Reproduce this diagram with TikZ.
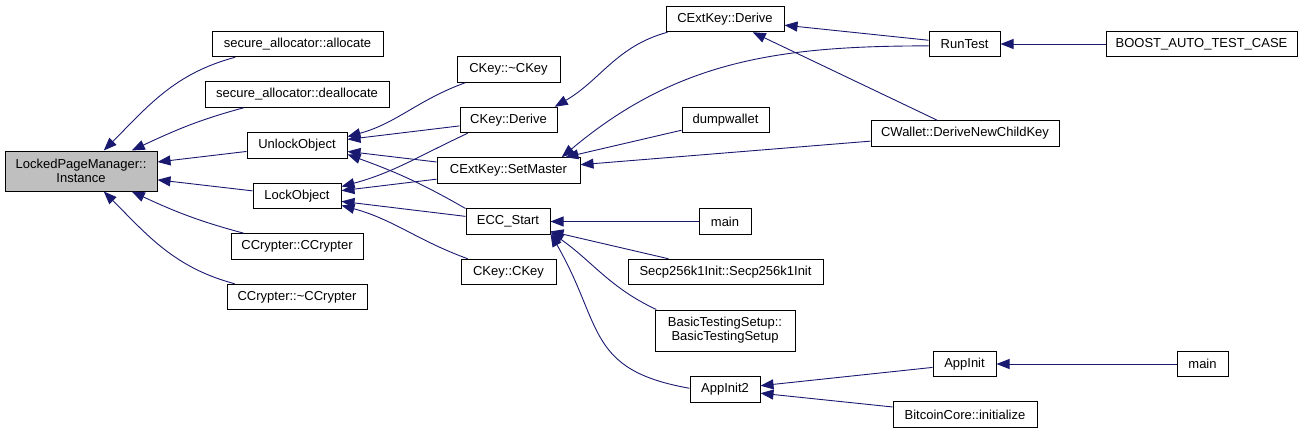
\documentclass[tikz,border=0pt]{standalone}
\usepackage{fontspec}
\setmainfont{Liberation Sans}
\usetikzlibrary{positioning,arrows.meta}
\definecolor{edgeblue}{HTML}{191970}
\definecolor{rootgray}{HTML}{BFBFBF}

\begin{document}
\begin{tikzpicture}[x=1pt,y=1pt,
    fnbox/.style={draw=black,fill=white,line width=1pt,minimum height=25.5pt,inner sep=0pt,
      font=\fontsize{13}{14}\selectfont,align=center},
    calls/.style={draw=edgeblue,line width=0.9pt,-{Triangle[length=13pt,width=10pt,fill=edgeblue]}}]
  \useasboundingbox (0,0) rectangle (1303,-433);
  % boxes: name / centre x / centre y (counted from the top) / width / label
  \foreach \n/\x/\y/\w/\lbl in {
      alloc/297.5/44/171/secure\_allocator::allocate,
      dealloc/297/94.5/184/secure\_allocator::deallocate,
      unlock/297/145.5/100/UnlockObject,
      lock/297/196/88/LockObject,
      ccrypt/297/246.5/132/CCrypter::CCrypter,
      dcrypt/297/297/140/CCrypter::\textasciitilde CCrypter,
      ckeyd/508.5/69.5/103/CKey::\textasciitilde CKey,
      ckderive/508.5/120/97/CKey::Derive,
      setmaster/508.5/170.5/143/CExtKey::SetMaster,
      eccstart/508/221.5/84/ECC\_Start,
      ckey/508.5/272/95/CKey::CKey,
      extderive/725/19/118/CExtKey::Derive,
      dumpwallet/725.5/120/87/dumpwallet,
      mainecc/725/221.5/52/main,
      secp/725.5/272/195/Secp256k1Init::Secp256k1Init,
      appinit2/725/389.5/70/AppInit2,
      runtest/964.5/44/71/RunTest,
      cwallet/965/133.5/188/CWallet::DeriveNewChildKey,
      appinit/964.5/364/63/AppInit,
      bitcoincore/965/414.5/144/BitcoinCore::initialize,
      boost/1201.5/44/191/BOOST\_AUTO\_TEST\_CASE,
      mainapp/1202.5/364/51/main} {
    \node[fnbox,minimum width=\w] (\n) at (\x,-\y) {\lbl};
  }
  \node[fnbox,fill=rootgray,minimum width=152,minimum height=40] (inst) at (81,-171)
    {LockedPageManager::\\Instance};
  \node[fnbox,minimum width=140,minimum height=41] (basic) at (725,-330.5)
    {BasicTestingSetup::\\BasicTestingSetup};

  % straight calls
  \foreach \a/\b in {unlock/inst, lock/inst, ckderive/unlock, setmaster/unlock,
      setmaster/lock, eccstart/lock, dumpwallet/setmaster, cwallet/setmaster,
      cwallet/extderive, runtest/extderive, boost/runtest, mainecc/eccstart,
      secp/eccstart, appinit/appinit2, bitcoincore/appinit2, mainapp/appinit} {
    \draw[calls] (\a) -- (\b);
  }
  % bent calls
  \draw[calls] (alloc.192) to[out=195,in=45] (inst.42);
  \draw[calls] (dealloc.194) to[out=195,in=25] (inst.22);
  \draw[calls] (ccrypt.166) to[out=165,in=-25] (inst.-22);
  \draw[calls] (dcrypt.168) to[out=165,in=-45] (inst.-42);
  \draw[calls] (ckeyd.197) to[out=200,in=15] (unlock.10);
  \draw[calls] (eccstart.163) to[out=150,in=-20] (unlock.-10);
  \draw[calls] (ckderive.198) to[out=205,in=15] (lock.12);
  \draw[calls] (ckey.162) to[out=160,in=-15] (lock.-12);
  \draw[calls] (extderive.193) to[out=195,in=30] (ckderive.16);
  \draw[calls] (runtest.183) to[out=180,in=40] (setmaster.14);
  \draw[calls] (basic.163) to[out=155,in=-35] (eccstart.-14);
  \draw[calls] (appinit2.178) to[out=170,in=-60,looseness=1.3] (eccstart.-16);
\end{tikzpicture}
\end{document}
